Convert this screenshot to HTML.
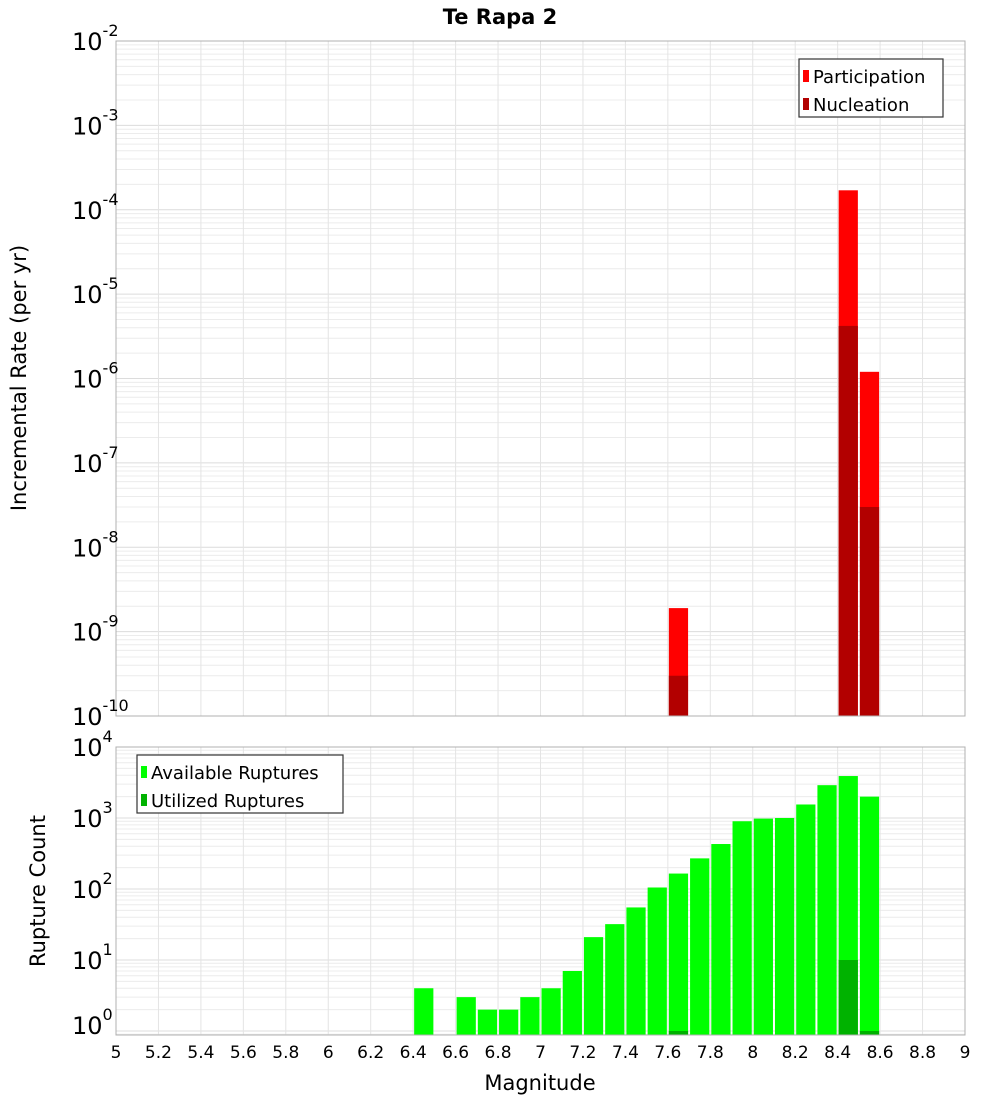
<!DOCTYPE html>
<html><head><meta charset="utf-8"><style>
body{margin:0;background:#fff;}
svg text{font-family:"DejaVu Sans","Liberation Sans",sans-serif;}
</style></head><body>
<svg id="c" width="1000" height="1100" xmlns="http://www.w3.org/2000/svg"></svg>
<script>
const partMags=[7.65,8.45,8.55];
const partVals=[1.9e-9,1.7e-4,1.2e-6];
const nuclMags=[7.65,8.45,8.55];
const nuclVals=[3e-10,4.2e-6,3e-8];
const availMags=[6.45,6.65,6.75,6.85,6.95,7.05,7.15,7.25,7.35,7.45,7.55,7.65,7.75,7.85,7.95,8.05,8.15,8.25,8.35,8.45,8.55];
const availVals=[4,3,2,2,3,4,7,21,32,55,105,165,270,430,900,980,1000,1550,2900,3900,2000];
const utilMags=[7.65,8.45,8.55];
const utilVals=[1,10,1];
const xTicks=["5","5.2","5.4","5.6","5.8","6","6.2","6.4","6.6","6.8","7","7.2","7.4","7.6","7.8","8","8.2","8.4","8.6","8.8","9"];
const topExp=[-2,-3,-4,-5,-6,-7,-8,-9,-10];
const botExp=[4,3,2,1,0];

const S=document.getElementById('c');const NS='http://www.w3.org/2000/svg';
function el(t,a,p){const e=document.createElementNS(NS,t);for(const k in a)e.setAttribute(k,a[k]);(p||S).appendChild(e);return e;}
const L=116,R=965;
const x=m=>L+(m-5)/4*(R-L);
const T1=41,B1=716,yT=v=>T1+(-2-Math.log10(v))/8*(B1-T1);
const T2=747,B2=1035,dec2=71,yB=v=>T2+(4-Math.log10(v))*dec2;

function grid(top,bot,ymap,eMin,eMax,name){
  const g=el('g',{});
  for(let e=eMin;e<=eMax;e++)for(let k=1;k<10;k++){const y=ymap(k*Math.pow(10,e));if(y<top-0.5||y>bot+0.5)continue;
    el('line',{x1:L,x2:R,y1:y,y2:y,stroke:k==1?'#dcdcdc':'#ececec','stroke-width':1},g);}
  for(let i=0;i<xTicks.length;i++){const xx=x(parseFloat(xTicks[i]));el('line',{x1:xx,x2:xx,y1:top,y2:bot,stroke:'#e4e4e4'},g);}
}
grid(T1,B1,yT,-10,-2,'top-grid');grid(T2,B2,yB,-1,4,'bottom-grid');

function bars(mags,vals,ymap,bot,color,name){
  for(let i=0;i<mags.length;i++){const x0=x(mags[i]-0.05)+1,x1=x(mags[i]+0.05)-1;const y=Math.max(ymap(vals[i]),0);
    const r=el('rect',{x:x0,y:y,width:x1-x0,height:bot-y,fill:color});
    }
}
bars(partMags,partVals,yT,B1,'#ff0000','participation-bar');
bars(nuclMags,nuclVals,yT,B1,'#b20000','nucleation-bar');
bars(availMags,availVals,yB,B2,'#00ff00','available-bar');
bars(utilMags,utilVals,yB,B2,'#00b200','utilized-bar');

let f=el('rect',{x:L,y:T1,width:R-L,height:B1-T1,fill:'none',stroke:'#b0b0b0'});
f=el('rect',{x:L,y:T2,width:R-L,height:B2-T2,fill:'none',stroke:'#b0b0b0'});

function ylab(exp,y,name){const t=el('text',{x:110,y:y+9,'text-anchor':'end','font-size':24});
  
  const a=el('tspan',{},t);a.textContent='10';const b=el('tspan',{dy:-14,'font-size':16},t);b.textContent=exp;
  t.setAttribute('text-anchor','start');t.setAttribute('x',72);}
topExp.forEach(e=>ylab(e,yT(Math.pow(10,e)),'top-y-tick'));
botExp.forEach(e=>ylab(e,yB(Math.pow(10,e))-(e==0?6:0),'bottom-y-tick'));
xTicks.forEach(s=>{const t=el('text',{x:x(parseFloat(s)),y:1058,'text-anchor':'middle','font-size':17});t.textContent=s;
  });

let t=el('text',{x:500,y:24,'text-anchor':'middle','font-size':21,'font-weight':'bold'});t.textContent='Te Rapa 2';
t=el('text',{x:540,y:1090,'text-anchor':'middle','font-size':21});t.textContent='Magnitude';
t=el('text',{x:0,y:0,'text-anchor':'middle','font-size':21,transform:'translate(26,378) rotate(-90)'});t.textContent='Incremental Rate (per yr)';
t=el('text',{x:0,y:0,'text-anchor':'middle','font-size':21,transform:'translate(45,891) rotate(-90)'});t.textContent='Rupture Count';

function legend(x0,y0,w,items,name){const g=el('g',{});
  el('rect',{x:x0,y:y0,width:w,height:58,fill:'#fff',stroke:'#333','stroke-width':1.2},g);
  items.forEach((it,i)=>{const yy=y0+17+i*28;el('rect',{x:x0+4,y:yy-6,width:6,height:12,fill:it[1]},g);
    const tt=el('text',{x:x0+14,y:yy+7,'font-size':18},g);tt.textContent=it[0];});}
legend(799,59,144,[['Participation','#ff0000'],['Nucleation','#b20000']],'top-legend');
legend(137,755,206,[['Available Ruptures','#00ff00'],['Utilized Ruptures','#00b200']],'bottom-legend');
</script>
</body></html>
